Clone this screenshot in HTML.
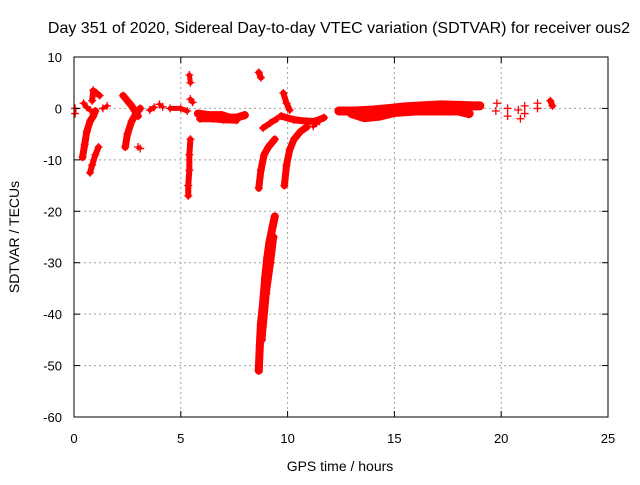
<!DOCTYPE html>
<html><head><meta charset="utf-8"><style>
body{margin:0;background:#fff}
svg text{font-family:"Liberation Sans",sans-serif;font-size:13px;fill:#000}
</style></head><body>
<svg id="chart" width="640" height="480">
<rect width="640" height="480" fill="#fff"/>
<text x="339" y="33" text-anchor="middle" style="font-size:16px">Day 351 of 2020, Sidereal Day-to-day VTEC variation (SDTVAR) for receiver ous2</text>
<text x="340" y="471" text-anchor="middle" style="font-size:14px">GPS time / hours</text>
<text transform="translate(19,237) rotate(-90)" text-anchor="middle" style="font-size:14px">SDTVAR / TECUs</text>
<g id="grid"></g><g id="marks"></g>
<rect x="74" y="57" width="534" height="360" fill="none" stroke="#000" stroke-width="1"/>
</svg>
<script>
const xTicks=[0,5,10,15,20,25];
const yTicks=[10,0,-10,-20,-30,-40,-50,-60];
const tracks=[
[[0.05,0],[0.05,-1]],
[[0.4,-9.5],[0.5,-7],[0.6,-4.5],[0.75,-2.5],[0.9,-1.5],[1.0,-0.5]],
[[0.75,-12.5],[0.85,-11],[1.0,-9],[1.15,-7.5]],
[[0.85,1.5],[0.9,3.5],[1.05,3],[1.2,2.5]],
[[0.45,1],[0.6,0.2],[0.75,-0.3]],
[[1.35,0],[1.55,0.5]],
[[2.3,2.5],[2.5,1.5],[2.7,0.5],[2.85,-0.5],[3.0,-1.5]],
[[2.4,-7.5],[2.5,-5],[2.7,-2.5],[2.9,-1],[3.1,0]],
[[3.0,-7.5],[3.1,-7.8]],
[[3.55,-0.3],[3.75,0.2]],
[[4.0,0.8],[4.15,0.3]],
[[4.5,0],[5.0,0],[5.3,-0.5]],
[[5.4,6.5],[5.45,5]],
[[5.45,1.8],[5.55,1.2]],
[[5.45,-6],[5.4,-9],[5.4,-12],[5.35,-15],[5.35,-17]],
[[5.8,-1],[6.3,-1.3],[6.9,-1.3],[7.3,-1.8],[7.6,-1.8],[8.0,-1.3]],
[[5.9,-2],[6.5,-2],[7.0,-2.2],[7.6,-2.3]],
[[8.65,7],[8.75,6]],
[[8.65,-15.5],[8.75,-12],[8.9,-9],[9.1,-7.5],[9.4,-6]],
[[8.85,-3.8],[9.2,-2.8],[9.5,-2]],
[[8.65,-51],[8.7,-46],[8.75,-42],[8.85,-38],[8.95,-33],[9.05,-29],[9.15,-26],[9.3,-23],[9.4,-21]],
[[8.8,-45],[9.0,-36],[9.2,-30],[9.35,-25]],
[[9.8,3],[9.95,1],[10.1,-0.3]],
[[9.85,-15],[9.95,-11],[10.1,-8],[10.3,-6],[10.6,-4.5],[10.9,-3.6]],
[[9.7,-1.5],[10.3,-2.2],[10.9,-2.5],[11.3,-2.5],[11.7,-1.8]],
[[11.2,-3.5],[11.5,-2.5]],
[[12.4,-0.5],[13.2,-0.5],[14.0,-0.3],[14.8,0],[15.5,0.3],[16.3,0.5],[17.2,0.7],[18.0,0.6],[18.7,0.5],[19.0,0.5]],
[[13.0,-1],[13.6,-1.8],[14.3,-1.5],[15.0,-0.8],[16.0,-0.5],[17.0,-0.5],[18.0,-0.5],[18.5,-1]],
[[19.8,1],[19.75,-0.5]],[[20.3,0],[20.3,-1.5]],[[20.8,-0.3],[20.9,-2]],[[21.1,0.5],[21.1,-1]],
[[21.7,1],[21.7,0]],[[22.3,1.5],[22.4,0.5]]
];
const trackWidths=[3,7,6,6,5,4,7,7,3,5,4,5,5,5,6,8,7,6,7,6,8,7,6,7,7,4,9,9,1,1,1,1,1,6];
const X=v=>74+v*534/25, Y=v=>57+(10-v)*360/70;
const NS="http://www.w3.org/2000/svg";
const grid=document.getElementById('grid'), marks=document.getElementById('marks'), svg=document.getElementById('chart');
function mk(tag,a,p){const e=document.createElementNS(NS,tag);for(const k in a)e.setAttribute(k,a[k]);p.appendChild(e);return e;}
xTicks.forEach(t=>{
 if(t>0&&t<25){const l=mk('line',{x1:X(t),x2:X(t),y1:57,y2:417,stroke:'#a0a0a0','stroke-dasharray':'2,3'},grid);
 
 }
 const tx=mk('text',{x:X(t),y:443,'text-anchor':'middle'},svg);tx.textContent=t;
 
 
 mk('line',{x1:X(t),x2:X(t),y1:417,y2:411,stroke:'#000'},svg);mk('line',{x1:X(t),x2:X(t),y1:57,y2:63,stroke:'#000'},svg);
});
yTicks.forEach(t=>{
 if(t<10&&t>-60){const l=mk('line',{x1:74,x2:608,y1:Y(t),y2:Y(t),stroke:'#a0a0a0','stroke-dasharray':'2,3'},grid);
 
 }
 const tx=mk('text',{x:62,y:Y(t)+5,'text-anchor':'end'},svg);tx.textContent=t;
 
 
 mk('line',{x1:74,x2:80,y1:Y(t),y2:Y(t),stroke:'#000'},svg);mk('line',{x1:608,x2:602,y1:Y(t),y2:Y(t),stroke:'#000'},svg);
});
tracks.forEach((tr,i)=>{
 const g=mk('g',{},marks);
 
 
 if(tr.length>1&&trackWidths[i]>1)mk('polyline',{points:tr.map(p=>X(p[0])+','+Y(p[1])).join(' '),fill:'none',stroke:'#f00','stroke-width':trackWidths[i],'stroke-linecap':'round','stroke-linejoin':'round'},g);
 tr.forEach(p=>{const x=X(p[0]),y=Y(p[1]);
  const m=mk('path',{d:`M${x-4},${y}H${x+4}M${x},${y-4}V${y+4}`,stroke:'#f00','stroke-width':1.3},g);
  
  });
});
</script>
</body></html>
